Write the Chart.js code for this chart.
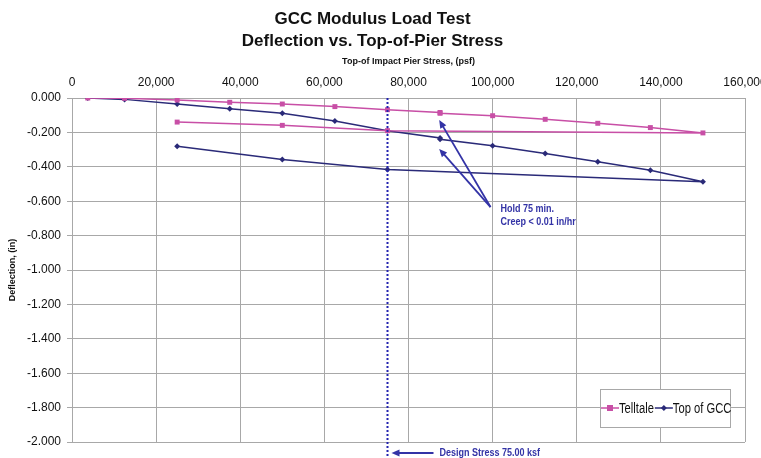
<!DOCTYPE html>
<html>
<head>
<meta charset="utf-8">
<script src="https://cdn.jsdelivr.net/npm/chart.js@4.4.0/dist/chart.umd.min.js"></script>
<style>
  html, body { margin: 0; padding: 0; background: #fff; }
</style>
</head>
<body>
<canvas id="chart" width="761" height="458"></canvas>
<script>
// loading to 150 ksf, hold at 87.5 ksf, then unload 75 / 50 / 25 ksf
const stressTelltale = [3750, 12500, 25000, 37500, 50000, 62500, 75000, 87500, 87500, 100000, 112500, 125000, 137500, 150000, 75000, 50000, 25000];
const deflTelltale = [0, -0.002, -0.012, -0.025, -0.035, -0.05, -0.068, -0.084, -0.089, -0.103, -0.124, -0.147, -0.172, -0.203, -0.19, -0.159, -0.14];
const stressGcc = [3750, 12500, 25000, 37500, 50000, 62500, 75000, 87500, 87500, 100000, 112500, 125000, 137500, 150000, 75000, 50000, 25000];
const deflGcc = [0, -0.008, -0.035, -0.062, -0.089, -0.134, -0.19, -0.232, -0.24, -0.277, -0.322, -0.37, -0.42, -0.487, -0.415, -0.357, -0.281];

const seriesNames = ['Telltale', 'Top of GCC'];
const designStress = 75000;

const FONT = "'Liberation Sans', Arial, sans-serif";
const PINK = '#c84fa6';
const NAVY = '#2a2a78';
const NOTE = '#3333a6';

function toPoints(xs, ys) {
  return xs.map((x, i) => ({ x: x, y: ys[i] }));
}

function arrow(ctx, x1, y1, x2, y2) {
  const a = Math.atan2(y2 - y1, x2 - x1);
  const len = 8, w = 3.5;
  ctx.beginPath();
  ctx.moveTo(x1, y1);
  ctx.lineTo(x2 - Math.cos(a) * len * 0.7, y2 - Math.sin(a) * len * 0.7);
  ctx.stroke();
  ctx.beginPath();
  ctx.moveTo(x2, y2);
  ctx.lineTo(x2 - Math.cos(a) * len + Math.sin(a) * w, y2 - Math.sin(a) * len - Math.cos(a) * w);
  ctx.lineTo(x2 - Math.cos(a) * len - Math.sin(a) * w, y2 - Math.sin(a) * len + Math.cos(a) * w);
  ctx.closePath();
  ctx.fill();
}

// narrow-looking text: squeeze horizontally
function narrowText(ctx, text, x, y, sx) {
  ctx.save();
  ctx.translate(x, y);
  ctx.scale(sx, 1);
  ctx.fillText(text, 0, 0);
  ctx.restore();
  return ctx.measureText(text).width * sx;
}

// design stress line, notes and the boxed legend
const notesPlugin = {
  id: 'notes',
  afterDatasetsDraw(chart) {
    const ctx = chart.ctx;
    const xs = chart.scales.x, ys = chart.scales.y;
    const area = chart.chartArea;
    ctx.save();

    // dotted design stress line
    const dx = Math.round(xs.getPixelForValue(designStress)) + 0.5;
    ctx.strokeStyle = '#2323b0';
    ctx.lineWidth = 2;
    ctx.setLineDash([2, 2]);
    ctx.beginPath();
    ctx.moveTo(dx, area.top);
    ctx.lineTo(dx, chart.height);
    ctx.stroke();
    ctx.setLineDash([]);

    ctx.strokeStyle = NOTE;
    ctx.fillStyle = NOTE;
    ctx.lineWidth = 1.8;
    const by = area.bottom + 11;
    arrow(ctx, dx + 46, by, dx + 4, by);
    ctx.font = 'bold 10px ' + FONT;
    ctx.textBaseline = 'middle';
    narrowText(ctx, 'Design Stress 75.00 ksf', dx + 52, by, 0.9);

    // hold arrows
    const tx = xs.getPixelForValue(99500), ty = ys.getPixelForValue(-0.634);
    const hx = xs.getPixelForValue(87300);
    arrow(ctx, tx, ty, hx, ys.getPixelForValue(-0.128));
    arrow(ctx, tx, ty, hx, ys.getPixelForValue(-0.296));
    narrowText(ctx, 'Hold 75 min.', tx + 10, ty + 2, 0.9);
    narrowText(ctx, 'Creep < 0.01 in/hr', tx + 10, ty + 15, 0.9);

    // legend
    const lx = 600, ly = 389, lw = 130, lh = 38;
    ctx.fillStyle = '#fff';
    ctx.fillRect(lx, ly, lw, lh);
    ctx.strokeStyle = '#a8a8a8';
    ctx.lineWidth = 1;
    ctx.strokeRect(lx + 0.5, ly + 0.5, lw, lh);
    ctx.font = '14px ' + FONT;
    let x = lx + 1;
    const my = ly + lh / 2;
    chart.data.datasets.forEach((ds) => {
      ctx.strokeStyle = ds.borderColor;
      ctx.fillStyle = ds.borderColor;
      ctx.lineWidth = 1.5;
      ctx.beginPath();
      ctx.moveTo(x, my);
      ctx.lineTo(x + 18, my);
      ctx.stroke();
      if (ds.pointStyle === 'rect') {
        ctx.fillRect(x + 6, my - 3, 6, 6);
      } else {
        ctx.beginPath();
        ctx.moveTo(x + 9, my - 3);
        ctx.lineTo(x + 12, my);
        ctx.lineTo(x + 9, my + 3);
        ctx.lineTo(x + 6, my);
        ctx.closePath();
        ctx.fill();
      }
      ctx.fillStyle = '#111';
      x += 18 + narrowText(ctx, ds.label, x + 18, my + 1, 0.8) + 1;
    });
    ctx.restore();
  }
};

const ctx = document.getElementById('chart').getContext('2d');
new Chart(ctx, {
  type: 'scatter',
  data: {
    datasets: [
      {
        label: seriesNames[0],
        data: toPoints(stressTelltale, deflTelltale),
        showLine: true,
        borderColor: PINK,
        backgroundColor: PINK,
        borderWidth: 1.5,
        pointStyle: 'rect',
        pointRadius: 3.5,
        pointBorderWidth: 0
      },
      {
        label: seriesNames[1],
        data: toPoints(stressGcc, deflGcc),
        showLine: true,
        borderColor: NAVY,
        backgroundColor: NAVY,
        borderWidth: 1.5,
        pointStyle: 'rectRot',
        pointRadius: 3,
        pointBorderWidth: 0
      }
    ]
  },
  options: {
    responsive: false,
    animation: false,
    devicePixelRatio: 1,
    layout: { padding: { left: 0, right: 16, top: 0, bottom: 16 } },
    plugins: {
      legend: { display: false },
      tooltip: { enabled: false },
      title: {
        display: true,
        text: ['GCC Modulus Load Test', 'Deflection vs. Top-of-Pier Stress'],
        color: '#111',
        font: { family: FONT, size: 17, weight: 'bold', lineHeight: 1.25 },
        padding: { top: 9, bottom: 0 }
      }
    },
    scales: {
      x: {
        type: 'linear',
        position: 'top',
        min: 0,
        max: 160000,
        afterFit(scale) {
          scale.height = 46.5;
          scale.paddingLeft = 0;
          scale.paddingRight = 0;
        },
        ticks: {
          stepSize: 20000,
          padding: 8,
          color: '#111',
          font: { family: FONT, size: 12 },
          callback: (v) => v.toLocaleString('en-US')
        },
        grid: { color: '#a8a8a8', drawTicks: false },
        border: { color: '#a8a8a8' },
        title: {
          display: true,
          text: 'Top-of Impact Pier Stress, (psf)',
          color: '#111',
          font: { family: FONT, size: 9, weight: 'bold', lineHeight: 1.2 },
          padding: { top: 5, bottom: 0 }
        }
      },
      y: {
        type: 'linear',
        min: -2,
        max: 0,
        afterFit(scale) {
          scale.width = 72;
        },
        ticks: {
          stepSize: 0.2,
          padding: 6,
          color: '#111',
          font: { family: FONT, size: 12 },
          callback: (v) => v.toFixed(3)
        },
        grid: { color: '#a8a8a8', tickLength: 5 },
        border: { color: '#a8a8a8' },
        title: {
          display: true,
          text: 'Deflection, (in)',
          color: '#111',
          font: { family: FONT, size: 9, weight: 'bold', lineHeight: 1.2 },
          padding: { top: 7, bottom: 0 }
        }
      }
    }
  },
  plugins: [notesPlugin]
});
</script>
</body>
</html>
